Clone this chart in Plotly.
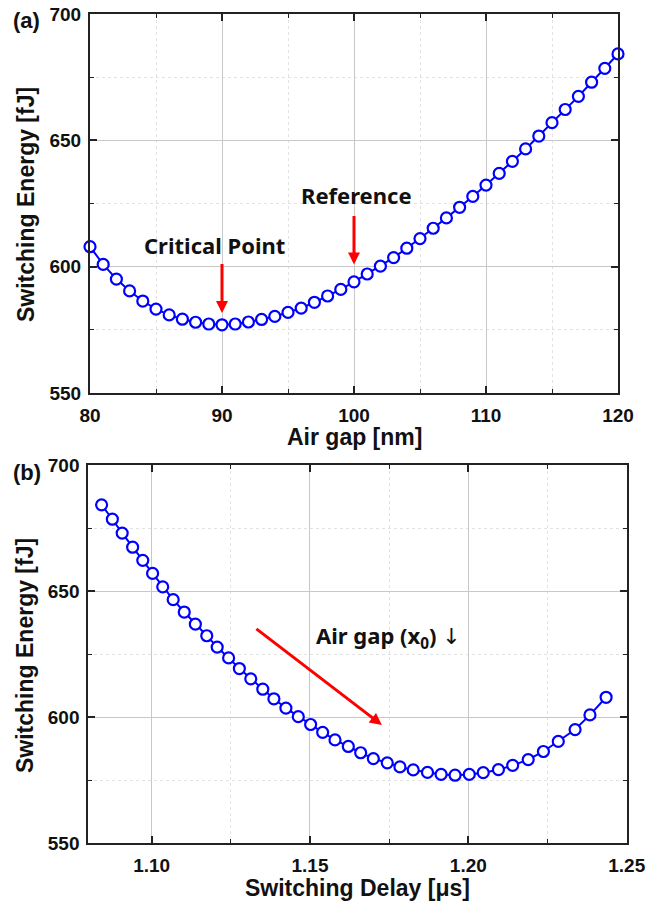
import plotly.graph_objects as go

# ---- data ----
air_gap_nm = list(range(80, 121))
switching_energy_fJ = [607.9, 600.9, 595.1, 590.4, 586.4, 583.2, 580.9, 579.2, 578.0, 577.3,
                       577.0, 577.3, 578.1, 579.1, 580.3, 581.9, 583.6, 585.9, 588.4, 591.0,
                       594.0, 597.1, 600.2, 603.6, 607.3, 611.1, 615.2, 619.3, 623.5, 627.8,
                       632.3, 636.9, 641.7, 646.6, 651.7, 657.0, 662.2, 667.4, 673.0, 678.5,
                       684.2]
switching_delay_us = [1.2435, 1.2384, 1.2337, 1.2284, 1.2237, 1.2189, 1.2140, 1.2095, 1.2047, 1.2003,
                      1.1958, 1.1914, 1.1871, 1.1826, 1.1784, 1.1744, 1.1700, 1.1660, 1.1621, 1.1579,
                      1.1540, 1.1502, 1.1463, 1.1424, 1.1386, 1.1351, 1.1313, 1.1277, 1.1243, 1.1207,
                      1.1174, 1.1138, 1.1103, 1.1068, 1.1035, 1.1003, 1.0972, 1.0940, 1.0907, 1.0876,
                      1.0842]
x_ticks_a = [80, 90, 100, 110, 120]
x_ticks_b = [1.10, 1.15, 1.20, 1.25]
x_ticklabels_b = ["1.10", "1.15", "1.20", "1.25"]
y_ticks = [550, 600, 650, 700]

W, H = 664, 905
BLUE = "#0000FF"
RED = "#FF0000"
AXFONT = "Liberation Sans, Arial, sans-serif"
NOTE = "Noto Sans, Open Sans, sans-serif"


def px(x):
    return x / W


def py(y):
    return 1 - y / H


marker = dict(symbol="circle", size=11, color="white", line=dict(color=BLUE, width=2.2))

fig = go.Figure()
fig.add_trace(go.Scatter(x=air_gap_nm, y=switching_energy_fJ, mode="lines+markers",
                         line=dict(color=BLUE, width=2), marker=marker,
                         xaxis="x", yaxis="y", showlegend=False, cliponaxis=False))
fig.add_trace(go.Scatter(x=switching_delay_us, y=switching_energy_fJ, mode="lines+markers",
                         line=dict(color=BLUE, width=2), marker=marker,
                         xaxis="x2", yaxis="y2", showlegend=False, cliponaxis=False))

common = dict(showline=True, linecolor="#222", linewidth=2, mirror="allticks",
              ticks="inside", ticklen=7, tickwidth=1.5, tickcolor="#222",
              showgrid=True, gridcolor="#c8c8c8", gridwidth=1, zeroline=False,
              automargin=False,
              tickfont=dict(family=AXFONT, size=19, color="#111", weight="bold"))

minor_common = dict(ticks="inside", ticklen=4, tickwidth=1.2, tickcolor="#222",
                    showgrid=True, gridcolor="#e2e2e2", griddash="dot", gridwidth=1)

fig.update_layout(
    width=W, height=H,
    margin=dict(l=0, r=0, t=0, b=0, autoexpand=False),
    paper_bgcolor="white", plot_bgcolor="white",
    xaxis=dict(domain=[px(90), px(618)], anchor="y", range=[80, 120],
               tickvals=x_ticks_a, ticklabelstandoff=4,
               minor=dict(dtick=5, **minor_common), **common),
    yaxis=dict(domain=[py(393), py(14)], anchor="x", range=[550, 700],
               tickvals=y_ticks, ticklabelstandoff=3,
               minor=dict(dtick=25, **minor_common), **common),
    xaxis2=dict(domain=[px(88.3), px(626.7)], anchor="y2", range=[1.08, 1.25],
                tickvals=x_ticks_b, ticktext=x_ticklabels_b, ticklabelstandoff=4,
                minor=dict(tick0=1.075, dtick=0.025, **minor_common), **common),
    yaxis2=dict(domain=[py(843.3), py(465)], anchor="x2", range=[550, 700],
                tickvals=y_ticks, ticklabelstandoff=3,
                minor=dict(dtick=25, **minor_common), **common),
)

title_font = dict(family=AXFONT, size=23, color="#111")
note_font = dict(family=NOTE, size=22, color="#111")
anns = [
    dict(text="<b>Air gap [nm]</b>", x=px(354), y=py(437), font=title_font),
    dict(text="<b>Switching Delay [μs]</b>", x=px(357), y=py(888), font=title_font),
    dict(text="<b>Switching Energy [fJ]</b>", x=px(26), y=py(205), textangle=-90, font=title_font),
    dict(text="<b>Switching Energy [fJ]</b>", x=px(25), y=py(656), textangle=-90, font=title_font),
    dict(text="<b>(a)</b>", x=px(26), y=py(21), font=dict(family=AXFONT, size=22, color="#111")),
    dict(text="<b>(b)</b>", x=px(27), y=py(473), font=dict(family=AXFONT, size=22, color="#111")),
    dict(text="<b>Critical Point</b>", x=px(214.5), y=py(245), font=note_font),
    dict(text="<b>Reference</b>", x=px(356), y=py(195), font=note_font),
    dict(text="<b>Air gap (x<sub>0</sub>) </b><span style=\"font-family:DejaVu Sans\">↓</span>",
         x=px(388), y=py(637), font=note_font),
]
for a in anns:
    fig.add_annotation(xref="paper", yref="paper", showarrow=False,
                       xanchor="center", yanchor="middle", **a)

arrows = [
    dict(x=90, y=581.7, ax=90, ay=601.6, xref="x", yref="y", axref="x", ayref="y"),
    dict(x=100, y=600.9, ax=100, ay=620.6, xref="x", yref="y", axref="x", ayref="y"),
    dict(x=1.1727, y=596.9, ax=1.1326, ay=635.5, xref="x2", yref="y2", axref="x2", ayref="y2"),
]
for a in arrows:
    fig.add_annotation(text="", showarrow=True, arrowhead=2, arrowsize=0.8,
                       arrowwidth=3, arrowcolor=RED, **a)

fig.write_html("out.html", config={"displayModeBar": False},
               post_script="document.body.style.margin='0';document.body.style.overflow='hidden';")
